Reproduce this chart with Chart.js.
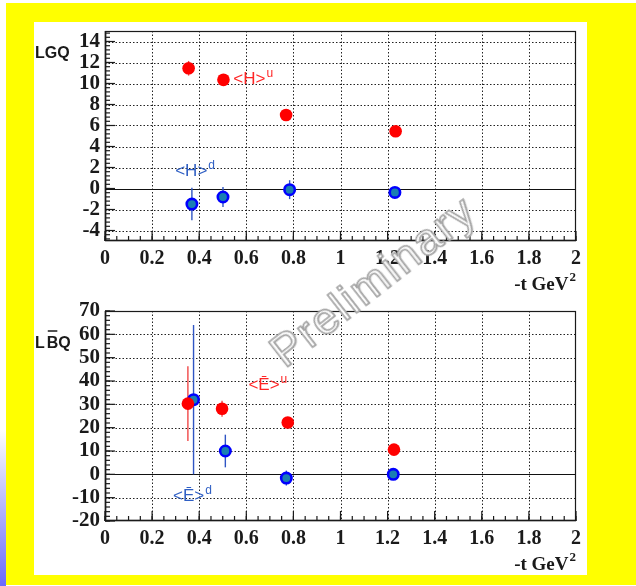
<!DOCTYPE html>
<html><head><meta charset="utf-8">
<script src="https://cdn.jsdelivr.net/npm/chart.js@4.4.1/dist/chart.umd.min.js"></script>
<style>
html,body{margin:0;padding:0;background:#fff;}
#page{position:relative;width:636px;height:586px;overflow:hidden;background:#fff;}
#strip{position:absolute;left:0;top:430px;width:6px;height:156px;background:linear-gradient(#ffffff,#6a6aff);}
#frame{position:absolute;left:6px;top:3px;width:630px;height:582px;background:#ffff00;}
#inner{position:absolute;left:34px;top:22px;width:553px;height:553px;background:#fff;}
canvas{position:absolute;left:34px;}
#c1{top:22px;} #c2{top:300px;}
#wm{position:absolute;left:373px;top:281px;transform:translate(-50%,-50%) rotate(-38deg);
 font-family:"Liberation Sans",Arial,sans-serif;font-size:45px;letter-spacing:2px;white-space:nowrap;
 color:#fbfbfb;-webkit-text-stroke:1.6px #a3a3a3;text-shadow:1px 1px 1px #bdbdbd;z-index:5;}
</style></head>
<body>
<div id="page">
 <div id="strip"></div>
 <div id="frame"></div>
 <div id="inner"></div>
 <canvas id="c1" width="553" height="278"></canvas>
 <canvas id="c2" width="553" height="275"></canvas>
 <div id="wm">Preliminary</div>
</div>
<script>
// ---------- data ----------
const xTickValues = [0, 0.2, 0.4, 0.6, 0.8, 1, 1.2, 1.4, 1.6, 1.8, 2];
const lgqTickValues = [-4, -2, 0, 2, 4, 6, 8, 10, 12, 14];
const lbqTickValues = [-20, -10, 0, 10, 20, 30, 40, 50, 60, 70];

// top panel: LGQ
const tHu = [0.355, 0.503, 0.769, 1.234];
const lgqHu = [11.45, 10.35, 7.0, 5.45];
const lgqHuErr = [0.7, 0.3, 0.3, 0.3];
const tHd = [0.369, 0.501, 0.784, 1.231];
const lgqHd = [-1.48, -0.81, -0.11, -0.37];
const lgqHdErr = [1.55, 0.95, 0.9, 0.3];

// bottom panel: LBbarQ
const tEu = [0.352, 0.497, 0.776, 1.227];
const lbqEu = [30.3, 28.1, 22.2, 10.6];
const lbqEuErr = [16.0, 3.4, 1.5, 1.0];
const tEd = [0.376, 0.511, 0.770, 1.224];
const lbqEd = [32.0, 10.0, -1.6, 0.0];
const lbqEdErr = [32.0, 7.0, 3.2, 0.8];

// ---------- helpers ----------
const pts = (xs, ys) => xs.map((x, i) => ({x, y: ys[i]}));
const RED = '#ff0000', BLUEFILL = '#1a7fb2', BLUEEDGE = '#0000ff';
const TXT = '#1a1a1a';
const SERIF = '"Liberation Serif", "Times New Roman", serif';

function makePlugin(cfg) {
  function line(ctx, x1, y1, x2, y2) { ctx.beginPath(); ctx.moveTo(x1, y1); ctx.lineTo(x2, y2); ctx.stroke(); }
  function minorVals(scale, majors, step) {
    const base = majors[0], out = [];
    const k0 = Math.ceil((scale.min - base) / step - 1e-9), k1 = Math.floor((scale.max - base) / step + 1e-9);
    for (let k = k0; k <= k1; k++) out.push(base + k * step);
    return out;
  }
  return {
    id: 'rootStyle',
    beforeDatasetsDraw(chart) {
      const {ctx, chartArea: a, scales: {x, y}} = chart;
      ctx.save();
      ctx.strokeStyle = '#222'; ctx.lineWidth = 1; ctx.setLineDash([1.5, 2]);
      x.ticks.forEach(t => {
        const px = Math.round(x.getPixelForValue(t.value)) + 0.5;
        if (px <= a.left + 2 || px >= a.right - 2) return;
        line(ctx, px, a.top, px, a.bottom);
      });
      y.ticks.forEach(t => {
        if (t.value === 0) return;
        const py = Math.round(y.getPixelForValue(t.value)) + 0.5;
        if (py <= a.top + 2 || py >= a.bottom - 2) return;
        line(ctx, a.left, py, a.right, py);
      });
      ctx.setLineDash([]);
      ctx.strokeStyle = '#111'; ctx.lineWidth = 1.2;
      const p0 = Math.round(y.getPixelForValue(0)) + 0.5;
      line(ctx, a.left, p0, a.right, p0);
      // error bars
      chart.data.datasets.forEach(ds => {
        if (!ds.errors) return;
        ctx.strokeStyle = ds.errorColor; ctx.lineWidth = 1.4;
        ds.data.forEach((p, i) => {
          const e = ds.errors[i];
          const px = x.getPixelForValue(p.x);
          const y1 = Math.max(a.top, y.getPixelForValue(p.y + e));
          const y2 = Math.min(a.bottom, y.getPixelForValue(p.y - e));
          line(ctx, px, y1, px, y2);
        });
      });
      ctx.restore();
    },
    afterDatasetsDraw(chart) {
      const {ctx, chartArea: a, scales: {x, y}} = chart;
      ctx.save();
      // frame
      ctx.strokeStyle = '#1a1a1a'; ctx.lineWidth = 1.2;
      ctx.strokeRect(a.left + 0.5, a.top + 0.5, a.right - a.left - 1, a.bottom - a.top - 1);
      ctx.lineWidth = 1.6;
      line(ctx, a.left + 0.5, a.top, a.left + 0.5, a.bottom);
      line(ctx, a.left, a.bottom - 0.5, a.right, a.bottom - 0.5);
      // inside ticks
      ctx.lineWidth = 1.2;
      const xMaj = x.ticks.map(t => t.value), yMaj = y.ticks.map(t => t.value);
      xMaj.forEach(v => { const px = x.getPixelForValue(v); line(ctx, px, a.bottom, px, a.bottom - 10); });
      minorVals(x, xMaj, cfg.xMinor).forEach(v => { const px = x.getPixelForValue(v); line(ctx, px, a.bottom, px, a.bottom - 5); });
      yMaj.forEach(v => { const py = y.getPixelForValue(v); line(ctx, a.left, py, a.left + 10, py); });
      minorVals(y, yMaj, cfg.yMinor).forEach(v => { const py = y.getPixelForValue(v); line(ctx, a.left, py, a.left + 5, py); });
      // in-plot labels
      cfg.labels.forEach(L => {
        const px = x.getPixelForValue(L.x), py = y.getPixelForValue(L.y);
        ctx.fillStyle = L.color; ctx.textAlign = 'left'; ctx.textBaseline = 'alphabetic';
        ctx.font = '17px "Liberation Sans", Arial, sans-serif';
        ctx.fillText(L.text, px, py);
        const w = ctx.measureText(L.text).width;
        ctx.font = '12px "Liberation Sans", Arial, sans-serif';
        ctx.fillText(L.sup, px + w + 1, py - 7);
      });
      // x title with superscript
      ctx.fillStyle = TXT; ctx.textBaseline = 'alphabetic'; ctx.textAlign = 'left';
      ctx.font = 'bold 13px ' + SERIF;
      const wSup = ctx.measureText('2').width;
      ctx.font = 'bold 19px ' + SERIF;
      const wMain = ctx.measureText('-t GeV').width;
      const xr = a.right;
      ctx.fillText('-t GeV', xr - wSup - wMain - 1, cfg.xTitleY);
      ctx.font = 'bold 13px ' + SERIF;
      ctx.fillText('2', xr - wSup, cfg.xTitleY - 9);
      // y title
      ctx.fillStyle = TXT; ctx.font = 'bold 16px "Liberation Sans", Arial, sans-serif';
      let cx = cfg.titleX;
      cfg.title.forEach(part => {
        ctx.fillText(part.t, cx, cfg.titleY);
        const w = ctx.measureText(part.t).width;
        if (part.bar) { ctx.strokeStyle = TXT; ctx.lineWidth = 1.5; line(ctx, cx + 1, cfg.titleY - 17, cx + w - 1, cfg.titleY - 17); }
        cx += w + (part.gap || 0);
      });
      ctx.restore();
    }
  };
}

function makeChart(id, cfg) {
  return new Chart(document.getElementById(id), {
    type: 'scatter',
    data: {datasets: cfg.datasets},
    options: {
      responsive: false, animation: false, devicePixelRatio: 1, events: [],
      layout: {padding: {top: cfg.padTop, right: 11, left: 0, bottom: 0}},
      plugins: {legend: {display: false}, tooltip: {enabled: false}},
      scales: {
        x: {
          type: 'linear', min: 0, max: 2,
          afterBuildTicks: s => { s.ticks = xTickValues.map(v => ({value: v})); },
          afterFit: s => { s.height = cfg.xAxisH; s.paddingLeft = 0; s.paddingRight = 0; },
          grid: {display: false, drawTicks: false}, border: {display: false},
          ticks: {padding: 6, color: TXT, font: {family: SERIF, weight: 'bold', size: 20},
                  callback: v => String(v), maxRotation: 0, autoSkip: false},
          title: {display: false}
        },
        y: {
          type: 'linear', min: cfg.yMin, max: cfg.yMax,
          afterBuildTicks: s => { s.ticks = cfg.yTicks.map(v => ({value: v})); },
          afterFit: s => { s.width = 71; s.paddingTop = 0; s.paddingBottom = 0; },
          grid: {display: false, drawTicks: false}, border: {display: false},
          ticks: {padding: 5, color: TXT, font: {family: SERIF, weight: 'bold', size: 21},
                  callback: v => String(v), autoSkip: false}
        }
      }
    },
    plugins: [makePlugin(cfg)]
  });
}

const redDs = (xs, ys, es) => ({data: pts(xs, ys), errors: es, errorColor: '#f04848',
  pointRadius: 6.3, pointBackgroundColor: RED, pointBorderColor: RED, pointBorderWidth: 0, showLine: false});
const blueDs = (xs, ys, es) => ({data: pts(xs, ys), errors: es, errorColor: '#2f55c4',
  pointRadius: 5.2, pointBackgroundColor: BLUEFILL, pointBorderColor: BLUEEDGE, pointBorderWidth: 2.6, showLine: false});

makeChart('c1', {
  padTop: 9, xAxisH: 59, yMin: -5, yMax: 15, yTicks: lgqTickValues,
  xMinor: 0.05, yMinor: 0.4, xTitleY: 268,
  datasets: [redDs(tHu, lgqHu, lgqHuErr), blueDs(tHd, lgqHd, lgqHdErr)],
  labels: [
    {x: 0.545, y: 10.0, text: '<H>', sup: 'u', color: '#ff2626'},
    {x: 0.298, y: 1.19, text: '<H>', sup: 'd', color: '#2f5fc4'}
  ],
  titleX: 1, titleY: 36, title: [{t: 'LGQ'}]
});

makeChart('c2', {
  padTop: 11, xAxisH: 54, yMin: -20, yMax: 70, yTicks: lbqTickValues,
  xMinor: 0.05, yMinor: 2, xTitleY: 270,
  datasets: [redDs(tEu, lbqEu, lbqEuErr), blueDs(tEd, lbqEd, lbqEdErr)],
  labels: [
    {x: 0.609, y: 36.0, text: '<\u0112>', sup: 'u', color: '#ff2626'},
    {x: 0.289, y: -11.5, text: '<\u0112>', sup: 'd', color: '#2f5fc4'}
  ],
  titleX: 1, titleY: 48, title: [{t: 'L', gap: 2}, {t: 'B', bar: true}, {t: 'Q'}]
});
</script>
</body></html>
